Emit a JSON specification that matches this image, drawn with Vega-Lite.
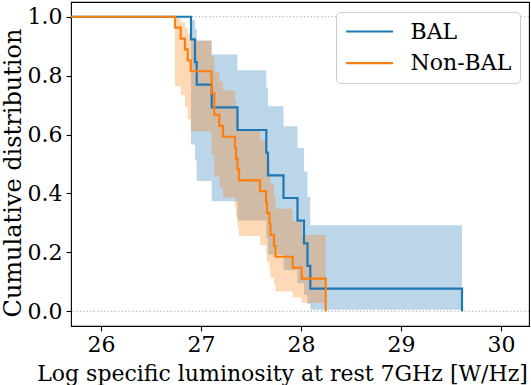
{
  "$schema": "https://vega.github.io/schema/vega-lite/v6.json",
  "width": 458,
  "height": 324,
  "autosize": {"type": "none"},
  "padding": {"left": 71, "top": 2, "right": 2, "bottom": 59},
  "config": {
    "font": "DejaVu Serif",
    "view": {"stroke": "black", "strokeWidth": 1.1},
    "axis": {
      "labelFont": "DejaVu Serif", "titleFont": "DejaVu Serif",
      "labelFontSize": 22, "titleFontSize": 22,
      "labelColor": "black", "titleColor": "black", "titleFontWeight": "normal",
      "tickColor": "black", "tickWidth": 1.1, "tickSize": 4.9,
      "domain": false, "grid": false, "labelPadding": 4
    },
    "legend": {
      "labelFont": "DejaVu Serif", "labelFontSize": 22, "labelColor": "black"
    }
  },
  "datasets": {
    "lines": [
      {"g": "BAL", "x": 25.6, "s": 1},
      {"g": "BAL", "x": 26.90, "s": 0.92308},
      {"g": "BAL", "x": 26.94, "s": 0.84615},
      {"g": "BAL", "x": 26.957, "s": 0.76923},
      {"g": "BAL", "x": 27.107, "s": 0.69231},
      {"g": "BAL", "x": 27.365, "s": 0.61538},
      {"g": "BAL", "x": 27.653, "s": 0.53846},
      {"g": "BAL", "x": 27.67, "s": 0.46154},
      {"g": "BAL", "x": 27.825, "s": 0.38462},
      {"g": "BAL", "x": 27.965, "s": 0.30769},
      {"g": "BAL", "x": 28.03, "s": 0.23077},
      {"g": "BAL", "x": 28.065, "s": 0.15385},
      {"g": "BAL", "x": 28.093, "s": 0.07692},
      {"g": "BAL", "x": 29.61, "s": 0},
      {"g": "Non-BAL", "x": 25.6, "s": 1},
      {"g": "Non-BAL", "x": 26.74, "s": 0.96296},
      {"g": "Non-BAL", "x": 26.797, "s": 0.92593},
      {"g": "Non-BAL", "x": 26.84, "s": 0.88889},
      {"g": "Non-BAL", "x": 26.867, "s": 0.85185},
      {"g": "Non-BAL", "x": 26.897, "s": 0.81481},
      {"g": "Non-BAL", "x": 27.105, "s": 0.74074},
      {"g": "Non-BAL", "x": 27.133, "s": 0.66667},
      {"g": "Non-BAL", "x": 27.183, "s": 0.62963},
      {"g": "Non-BAL", "x": 27.22, "s": 0.59259},
      {"g": "Non-BAL", "x": 27.34, "s": 0.55556},
      {"g": "Non-BAL", "x": 27.35, "s": 0.51852},
      {"g": "Non-BAL", "x": 27.365, "s": 0.48148},
      {"g": "Non-BAL", "x": 27.38, "s": 0.44444},
      {"g": "Non-BAL", "x": 27.59, "s": 0.40741},
      {"g": "Non-BAL", "x": 27.65, "s": 0.37037},
      {"g": "Non-BAL", "x": 27.66, "s": 0.33333},
      {"g": "Non-BAL", "x": 27.685, "s": 0.29630},
      {"g": "Non-BAL", "x": 27.695, "s": 0.25926},
      {"g": "Non-BAL", "x": 27.73, "s": 0.22222},
      {"g": "Non-BAL", "x": 27.745, "s": 0.18519},
      {"g": "Non-BAL", "x": 27.917, "s": 0.14815},
      {"g": "Non-BAL", "x": 28.007, "s": 0.11111},
      {"g": "Non-BAL", "x": 28.247, "s": 0}
    ],
    "bands": [
      {"g": "BAL", "x": 26.90, "lo": 0.56634, "hi": 0.98880},
      {"g": "BAL", "x": 26.94, "lo": 0.51220, "hi": 0.95915},
      {"g": "BAL", "x": 26.957, "lo": 0.44213, "hi": 0.91911},
      {"g": "BAL", "x": 27.107, "lo": 0.37337, "hi": 0.87176},
      {"g": "BAL", "x": 27.365, "lo": 0.30833, "hi": 0.81846},
      {"g": "BAL", "x": 27.653, "lo": 0.24764, "hi": 0.75993},
      {"g": "BAL", "x": 27.67, "lo": 0.19161, "hi": 0.69642},
      {"g": "BAL", "x": 27.825, "lo": 0.14049, "hi": 0.62795},
      {"g": "BAL", "x": 27.965, "lo": 0.09497, "hi": 0.55424},
      {"g": "BAL", "x": 28.03, "lo": 0.05585, "hi": 0.47462},
      {"g": "BAL", "x": 28.065, "lo": 0.02476, "hi": 0.38780},
      {"g": "BAL", "x": 28.093, "lo": 0.00478, "hi": 0.29202},
      {"g": "BAL", "x": 29.61, "lo": 0.00478, "hi": 0.29202},
      {"g": "Non-BAL", "x": 26.74, "lo": 0.76494, "hi": 0.99470},
      {"g": "Non-BAL", "x": 26.797, "lo": 0.73508, "hi": 0.98094},
      {"g": "Non-BAL", "x": 26.84, "lo": 0.69391, "hi": 0.96275},
      {"g": "Non-BAL", "x": 26.867, "lo": 0.65203, "hi": 0.94166},
      {"g": "Non-BAL", "x": 26.897, "lo": 0.61093, "hi": 0.91842},
      {"g": "Non-BAL", "x": 27.105, "lo": 0.53194, "hi": 0.86704},
      {"g": "Non-BAL", "x": 27.133, "lo": 0.45714, "hi": 0.81056},
      {"g": "Non-BAL", "x": 27.183, "lo": 0.42122, "hi": 0.78071},
      {"g": "Non-BAL", "x": 27.22, "lo": 0.38626, "hi": 0.74990},
      {"g": "Non-BAL", "x": 27.34, "lo": 0.35222, "hi": 0.71815},
      {"g": "Non-BAL", "x": 27.35, "lo": 0.31910, "hi": 0.68550},
      {"g": "Non-BAL", "x": 27.365, "lo": 0.28690, "hi": 0.65194},
      {"g": "Non-BAL", "x": 27.38, "lo": 0.25562, "hi": 0.61749},
      {"g": "Non-BAL", "x": 27.59, "lo": 0.22530, "hi": 0.58215},
      {"g": "Non-BAL", "x": 27.65, "lo": 0.19599, "hi": 0.54587},
      {"g": "Non-BAL", "x": 27.66, "lo": 0.16774, "hi": 0.50866},
      {"g": "Non-BAL", "x": 27.685, "lo": 0.14065, "hi": 0.47033},
      {"g": "Non-BAL", "x": 27.695, "lo": 0.11477, "hi": 0.43095},
      {"g": "Non-BAL", "x": 27.73, "lo": 0.09030, "hi": 0.39030},
      {"g": "Non-BAL", "x": 27.745, "lo": 0.06748, "hi": 0.34822},
      {"g": "Non-BAL", "x": 27.917, "lo": 0.04658, "hi": 0.30452},
      {"g": "Non-BAL", "x": 28.007, "lo": 0.02814, "hi": 0.25870},
      {"g": "Non-BAL", "x": 28.247, "lo": 0.02814, "hi": 0.25870}
    ],
    "refs": [{"y": 0}, {"y": 1}]
  },
  "layer": [
    {
      "data": {"name": "refs"},
      "mark": {"type": "rule", "color": "#aaaaaa", "strokeWidth": 1, "strokeDash": [1.3, 2.2]},
      "encoding": {
        "y": {"field": "y", "type": "quantitative", "scale": {"domain": [-0.05, 1.05], "nice": false, "zero": false}}
      }
    },
    {
      "data": {"name": "bands"},
      "mark": {"type": "area", "interpolate": "step-after", "fillOpacity": 0.3, "clip": true},
      "encoding": {
        "x": {"field": "x", "type": "quantitative"},
        "y": {"field": "hi", "type": "quantitative"},
        "y2": {"field": "lo"},
        "color": {"field": "g", "type": "nominal"}
      }
    },
    {
      "data": {"name": "lines"},
      "mark": {"type": "line", "interpolate": "step-after", "strokeWidth": 2.2, "clip": true},
      "encoding": {
        "x": {
          "field": "x", "type": "quantitative",
          "scale": {"domain": [25.7, 30.28], "nice": false, "zero": false},
          "axis": {"values": [26, 27, 28, 29, 30], "format": "d", "title": "Log specific luminosity at rest 7GHz [W/Hz]",
                   "titleX": 211, "titleY": 54, "titleAlign": "center", "titleBaseline": "alphabetic", "titleAnchor": null}
        },
        "y": {
          "field": "s", "type": "quantitative",
          "axis": {"values": [0, 0.2, 0.4, 0.6, 0.8, 1.0], "format": ".1f", "title": "Cumulative distribution",
                   "titleFontSize": 24, "titleX": -50.5, "titleY": 170.5, "titleAngle": 270, "titleAlign": "center", "titleBaseline": "alphabetic", "titleAnchor": null}
        },
        "color": {
          "field": "g", "type": "nominal",
          "scale": {"domain": ["BAL", "Non-BAL"], "range": ["#1f77b4", "#ff7f0e"]},
          "legend": {
            "orient": "top-right", "offset": 9.5, "title": null,
            "symbolType": "M-1,0H4", "symbolSize": 353, "symbolStrokeWidth": 2.2,
            "labelOffset": 44, "padding": 8.5, "rowPadding": 9.7,
            "strokeColor": "#cccccc", "fillColor": "white", "cornerRadius": 4
          }
        }
      }
    }
  ]
}
